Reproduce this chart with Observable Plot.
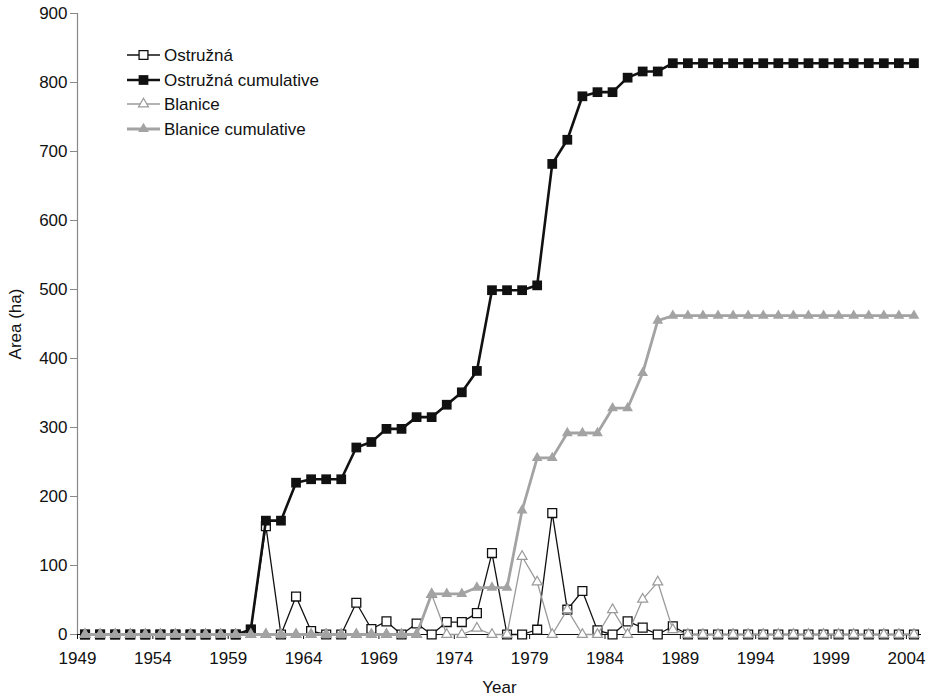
<!DOCTYPE html>
<html>
<head>
<meta charset="utf-8">
<script src="https://cdn.jsdelivr.net/npm/d3@7"></script>
<script src="https://cdn.jsdelivr.net/npm/@observablehq/plot@0.6"></script>
<style>
  html, body { margin: 0; padding: 0; background: #fff; }
  #chart { width: 930px; height: 696px; }
</style>
</head>
<body>
<div id="chart"></div>
<script>
const years = [1949,1950,1951,1952,1953,1954,1955,1956,1957,1958,1959,1960,1961,1962,1963,1964,1965,1966,1967,1968,1969,1970,1971,1972,1973,1974,1975,1976,1977,1978,1979,1980,1981,1982,1983,1984,1985,1986,1987,1988,1989,1990,1991,1992,1993,1994,1995,1996,1997,1998,1999,2000,2001,2002,2003,2004];

const ostruzna = [0,0,0,0,0,0,0,0,0,0,0,
  7,157,0,55,5,0,0,46,8,19,0,16,0,18,18,31,118,0,0,7,176,36,63,6,0,19,10,0,12,
  0,0,0,0,0,0,0,0,0,0,0,0,0,0,0,0];
const ostruznaCum = [0,0,0,0,0,0,0,0,0,0,0,
  7,165,165,220,225,225,225,271,279,298,298,315,315,333,351,382,499,499,499,506,682,717,780,786,786,807,816,816,828,
  828,828,828,828,828,828,828,828,828,828,828,828,828,828,828,828];
const blanice = [0,0,0,0,0,0,0,0,0,0,0,0,0,0,0,0,0,0,0,0,0,0,0,
  58,0,0,9,0,0,113,76,0,36,0,0,36,0,51,76,7,
  0,0,0,0,0,0,0,0,0,0,0,0,0,0,0,0];
const blaniceCum = [0,0,0,0,0,0,0,0,0,0,0,0,0,0,0,0,0,0,0,0,0,0,0,
  59,59,59,68,68,68,180,256,256,292,292,292,328,328,379,455,462,
  462,462,462,462,462,462,462,462,462,462,462,462,462,462,462,462];

const seriesNames = ["Ostružná", "Ostružná cumulative", "Blanice", "Blanice cumulative"];
const xTicks = [1949,1954,1959,1964,1969,1974,1979,1984,1989,1994,1999,2004];
const yTicks = [0,100,200,300,400,500,600,700,800,900];

const toRows = vals => years.map((year, i) => ({year, value: vals[i]}));
const rowsO = toRows(ostruzna), rowsOC = toRows(ostruznaCum), rowsB = toRows(blanice), rowsBC = toRows(blaniceCum);

const GRAY_C = "#a3a3a3", GRAY_Y = "#9a9a9a", BLACK = "#111";
const X = d => d.year + 0.5; // category centres between year boundaries

const styles = [
  {line: {stroke: BLACK, strokeWidth: 1.3}, dot: {symbol: "square", r: 5.0, fill: "white", stroke: BLACK, strokeWidth: 1.3}},
  {line: {stroke: BLACK, strokeWidth: 2.6}, dot: {symbol: "square", r: 5.5, fill: BLACK, stroke: "none"}},
  {line: {stroke: GRAY_Y, strokeWidth: 1.3}, dot: {symbol: "triangle", r: 3.7, fill: "white", stroke: GRAY_Y, strokeWidth: 1.2}},
  {line: {stroke: GRAY_C, strokeWidth: 2.8}, dot: {symbol: "triangle", r: 4.0, fill: GRAY_C, stroke: "none"}}
];
const allRows = [rowsO, rowsOC, rowsB, rowsBC];

const seriesMarks = allRows.flatMap((rows, i) => [
  Plot.line(rows, {x: X, y: "value", ...styles[i].line}),
  Plot.dot(rows, {x: X, y: "value", ...styles[i].dot})
]);

const svg = Plot.plot({
  width: 930,
  height: 696,
  marginLeft: 77,
  marginRight: 9,
  marginTop: 13,
  marginBottom: 62,
  style: {fontFamily: "'Liberation Sans', Arial, Helvetica, sans-serif", fontSize: "17px", color: BLACK, background: "white"},
  x: {domain: [1949, 2005]},
  y: {domain: [0, 900]},
  marks: [
    Plot.axisY({ticks: yTicks, tickSize: 7, tickPadding: 3, stroke: "#888", fill: BLACK,
      label: "Area (ha)", labelAnchor: "center", labelOffset: 69, labelArrow: "none"}),
    Plot.axisX({ticks: xTicks, tickFormat: d => String(d), tickSize: 5, tickPadding: 12, stroke: BLACK, fill: BLACK,
      label: "Year", labelAnchor: "center", labelOffset: 58, labelArrow: "none"}),
    Plot.ruleX([1949], {stroke: "#888", strokeWidth: 1.2}),
    Plot.ruleY([0], {stroke: BLACK, strokeWidth: 1}),
    ...seriesMarks
  ]
});

// Legend inside the plot area (top-left)
const lg = d3.select(svg).append("g")
  .attr("font-family", "'Liberation Sans', Arial, Helvetica, sans-serif")
  .attr("font-size", 17)
  .attr("text-anchor", "start");
const rowY = [55, 80, 104, 129];
const symSize = r => Math.PI * r * r;
seriesNames.forEach((name, i) => {
  const g = lg.append("g").attr("transform", `translate(127,${rowY[i]})`);
  g.append("line").attr("x1", 0).attr("x2", 33).attr("y1", 0).attr("y2", 0)
    .attr("stroke", styles[i].line.stroke).attr("stroke-width", styles[i].line.strokeWidth);
  const d = styles[i].dot;
  g.append("path")
    .attr("transform", "translate(16.5,0)")
    .attr("d", d3.symbol(d.symbol === "square" ? d3.symbolSquare : d3.symbolTriangle, symSize(d.r))())
    .attr("fill", d.fill).attr("stroke", d.stroke).attr("stroke-width", d.strokeWidth || 0);
  g.append("text").attr("x", 37).attr("y", 0).attr("dy", "0.35em").attr("text-anchor", "start").attr("fill", BLACK).text(name);
});

document.getElementById("chart").appendChild(svg);
</script>
</body>
</html>
